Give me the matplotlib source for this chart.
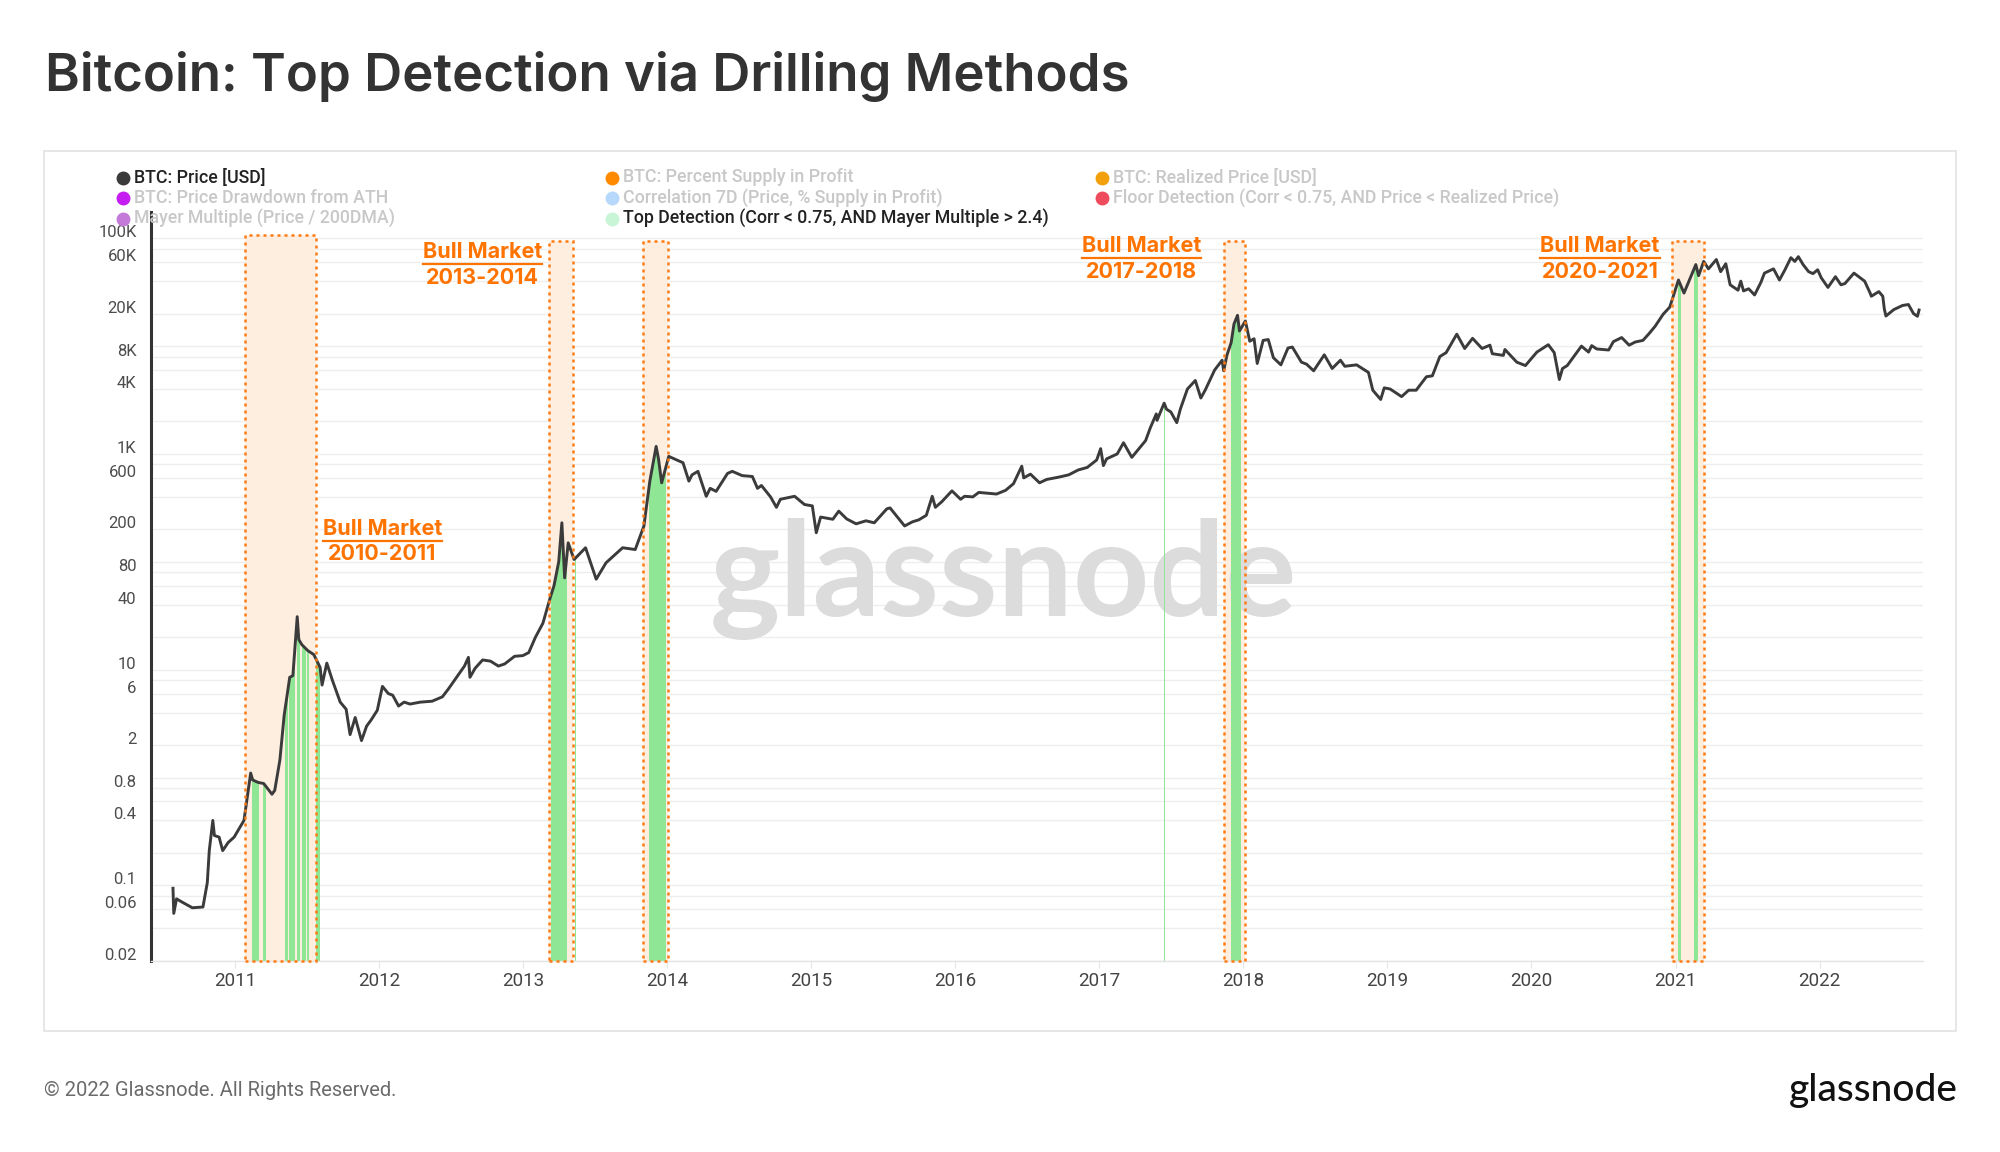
import pandas as pd
import matplotlib
matplotlib.use("Agg")
import matplotlib.pyplot as plt
import matplotlib.dates as mdates
from matplotlib.lines import Line2D
from matplotlib.patches import Rectangle
from matplotlib.ticker import FixedLocator, FixedFormatter, NullFormatter
from matplotlib.transforms import ScaledTranslation

plt.rcParams['font.family'] = ['Roboto', 'DejaVu Sans']

# BTC price (date, USD), one list per year
y2010 = [("2010-07-28", 0.094), ("2010-07-30", 0.055), ("2010-08-06", 0.075), ("2010-08-20", 0.070),
         ("2010-09-15", 0.062), ("2010-10-12", 0.063), ("2010-10-23", 0.106), ("2010-10-28", 0.21),
         ("2010-11-06", 0.40), ("2010-11-10", 0.29), ("2010-11-22", 0.28), ("2010-12-01", 0.21),
         ("2010-12-15", 0.25), ("2010-12-30", 0.28)]
y2011 = [("2011-01-24", 0.40), ("2011-02-10", 1.10), ("2011-02-15", 0.95), ("2011-03-01", 0.90),
         ("2011-03-15", 0.88), ("2011-04-05", 0.70), ("2011-04-12", 0.76), ("2011-04-25", 1.45),
         ("2011-05-06", 3.8), ("2011-05-20", 8.5), ("2011-05-28", 8.8), ("2011-06-08", 31.0),
         ("2011-06-12", 19.0), ("2011-06-20", 17.0), ("2011-07-05", 15.0), ("2011-07-20", 13.8),
         ("2011-08-05", 10.5), ("2011-08-10", 7.2), ("2011-08-22", 11.5), ("2011-09-05", 8.0),
         ("2011-09-25", 5.0), ("2011-10-10", 4.3), ("2011-10-20", 2.5), ("2011-11-02", 3.6),
         ("2011-11-18", 2.2), ("2011-12-01", 3.0), ("2011-12-12", 3.4), ("2011-12-28", 4.2)]
y2012 = [("2012-01-10", 7.0), ("2012-01-25", 6.0), ("2012-02-05", 5.8), ("2012-02-20", 4.6),
         ("2012-03-05", 5.0), ("2012-03-20", 4.8), ("2012-04-15", 5.0), ("2012-05-15", 5.1),
         ("2012-06-10", 5.6), ("2012-06-25", 6.6), ("2012-07-15", 8.4), ("2012-08-05", 10.8),
         ("2012-08-15", 13.0), ("2012-08-19", 8.5), ("2012-09-01", 10.3), ("2012-09-20", 12.3),
         ("2012-10-10", 12.0), ("2012-10-30", 10.8), ("2012-11-15", 11.3), ("2012-12-10", 13.3),
         ("2012-12-31", 13.5)]
y2013 = [("2013-01-15", 14.4), ("2013-02-01", 20), ("2013-02-20", 27), ("2013-03-10", 46),
         ("2013-03-20", 60), ("2013-04-01", 100), ("2013-04-09", 230), ("2013-04-16", 71),
         ("2013-04-25", 150), ("2013-05-10", 105), ("2013-06-08", 135), ("2013-07-05", 69),
         ("2013-07-30", 98), ("2013-08-20", 115), ("2013-09-10", 135), ("2013-10-12", 130),
         ("2013-11-03", 215), ("2013-11-18", 560), ("2013-12-04", 1175), ("2013-12-10", 900),
         ("2013-12-18", 540)]
y2014 = [("2014-01-05", 950), ("2014-01-25", 880), ("2014-02-10", 830), ("2014-02-25", 560),
         ("2014-03-05", 640), ("2014-03-20", 690), ("2014-04-10", 405), ("2014-04-20", 480),
         ("2014-05-05", 450), ("2014-06-03", 660), ("2014-06-15", 690), ("2014-07-10", 630),
         ("2014-08-05", 618), ("2014-08-18", 480), ("2014-08-28", 510), ("2014-09-20", 400),
         ("2014-10-05", 320), ("2014-10-15", 380), ("2014-11-20", 405), ("2014-12-15", 340)]
y2015 = [("2015-01-04", 330), ("2015-01-14", 186), ("2015-01-25", 260), ("2015-02-25", 248),
         ("2015-03-12", 295), ("2015-04-01", 250), ("2015-04-25", 225), ("2015-05-20", 240),
         ("2015-06-10", 230), ("2015-07-12", 310), ("2015-07-20", 316), ("2015-08-26", 215),
         ("2015-09-15", 235), ("2015-10-01", 245), ("2015-10-20", 270), ("2015-11-04", 405),
         ("2015-11-12", 320), ("2015-11-28", 360), ("2015-12-24", 455)]
y2016 = [("2016-01-15", 380), ("2016-01-25", 405), ("2016-02-15", 400), ("2016-03-01", 440),
         ("2016-04-15", 425), ("2016-05-08", 460), ("2016-05-28", 530), ("2016-06-18", 770),
         ("2016-06-23", 600), ("2016-07-10", 650), ("2016-08-02", 540), ("2016-08-20", 580),
         ("2016-09-20", 610), ("2016-10-15", 640), ("2016-11-08", 710), ("2016-12-01", 750),
         ("2016-12-25", 880)]
y2017 = [("2017-01-04", 1120), ("2017-01-11", 780), ("2017-01-19", 900), ("2017-02-15", 1000),
         ("2017-03-03", 1270), ("2017-03-24", 930), ("2017-04-28", 1330), ("2017-05-10", 1750),
         ("2017-05-25", 2350), ("2017-05-27", 2050), ("2017-06-14", 2960), ("2017-06-20", 2600),
         ("2017-07-01", 2450), ("2017-07-16", 1950), ("2017-07-25", 2600), ("2017-08-12", 4000),
         ("2017-09-01", 4800), ("2017-09-15", 3300), ("2017-09-26", 3900), ("2017-10-20", 6000),
         ("2017-11-08", 7400), ("2017-11-12", 5900), ("2017-11-20", 8200), ("2017-12-01", 10800),
         ("2017-12-08", 16000), ("2017-12-17", 19300), ("2017-12-22", 13800)]
y2018 = [("2018-01-06", 17100), ("2018-01-17", 11100), ("2018-01-28", 11700), ("2018-02-05", 6900),
         ("2018-02-20", 11300), ("2018-03-05", 11500), ("2018-03-18", 7800), ("2018-04-06", 6700),
         ("2018-04-24", 9600), ("2018-05-05", 9800), ("2018-05-28", 7100), ("2018-06-10", 6800),
         ("2018-06-28", 5900), ("2018-07-25", 8300), ("2018-08-14", 6200), ("2018-09-04", 7400),
         ("2018-09-15", 6500), ("2018-10-15", 6700), ("2018-11-14", 5700), ("2018-11-25", 3900),
         ("2018-12-15", 3200), ("2018-12-24", 4100)]
y2019 = [("2019-01-08", 4000), ("2019-02-06", 3400), ("2019-02-24", 3900), ("2019-03-15", 3900),
         ("2019-04-10", 5200), ("2019-04-25", 5300), ("2019-05-14", 8000), ("2019-05-30", 8700),
         ("2019-06-26", 12900), ("2019-07-16", 9500), ("2019-08-05", 11800), ("2019-08-29", 9500),
         ("2019-09-18", 10200), ("2019-09-24", 8500), ("2019-10-22", 8200), ("2019-10-26", 9300),
         ("2019-11-25", 7100), ("2019-12-17", 6600)]
y2020 = [("2020-01-15", 8800), ("2020-02-13", 10300), ("2020-02-28", 8700), ("2020-03-12", 4900),
         ("2020-03-20", 6200), ("2020-04-01", 6600), ("2020-05-07", 10000), ("2020-05-25", 8800),
         ("2020-06-02", 10100), ("2020-06-15", 9400), ("2020-07-15", 9200), ("2020-07-27", 11000),
         ("2020-08-17", 12000), ("2020-09-05", 10200), ("2020-09-20", 10900), ("2020-10-10", 11300),
         ("2020-10-25", 13000), ("2020-11-10", 15300), ("2020-11-30", 19700), ("2020-12-17", 23000)]
y2021 = [("2021-01-08", 41000), ("2021-01-22", 31000), ("2021-02-21", 57000), ("2021-02-28", 45000),
         ("2021-03-13", 61000), ("2021-03-25", 52000), ("2021-04-14", 63500), ("2021-04-25", 49000),
         ("2021-05-08", 58000), ("2021-05-19", 37000), ("2021-06-08", 33000), ("2021-06-15", 40000),
         ("2021-06-22", 32500), ("2021-07-05", 34000), ("2021-07-20", 29800), ("2021-08-05", 39000),
         ("2021-08-14", 47500), ("2021-09-06", 52000), ("2021-09-21", 41000), ("2021-10-05", 51000),
         ("2021-10-20", 66000), ("2021-10-30", 61000), ("2021-11-08", 67500), ("2021-11-20", 57000),
         ("2021-12-04", 49000), ("2021-12-15", 47000), ("2021-12-27", 51000)]
y2022 = [("2022-01-05", 43000), ("2022-01-22", 35000), ("2022-02-10", 44000), ("2022-02-24", 37000),
         ("2022-03-06", 38000), ("2022-03-29", 47500), ("2022-04-25", 40000), ("2022-05-09", 31000),
         ("2022-05-12", 29000), ("2022-05-31", 32000), ("2022-06-10", 29000), ("2022-06-14", 22000),
         ("2022-06-18", 19000), ("2022-07-08", 21800), ("2022-07-30", 23800), ("2022-08-14", 24300),
         ("2022-08-27", 20000), ("2022-09-06", 18900), ("2022-09-10", 21600)]

# days flagged by "Top Detection"
top_detection = [
    ("2011-02-14", "2011-03-03"), ("2011-03-13", "2011-03-22"), ("2011-05-07", "2011-05-15"),
    ("2011-05-18", "2011-06-03"), ("2011-06-08", "2011-06-16"), ("2011-06-21", "2011-07-01"),
    ("2011-07-02", "2011-07-09"), ("2011-07-26", "2011-08-05"),
    ("2013-03-13", "2013-04-23"), ("2013-05-12", "2013-05-14"),
    ("2013-11-16", "2013-12-28"),
    ("2017-06-14", "2017-06-15"),
    ("2017-12-01", "2017-12-25"),
    ("2021-01-06", "2021-01-14"), ("2021-02-17", "2021-02-26"),
]

bull_markets = [
    ("2011-01-27", "2011-07-26"),
    ("2013-03-07", "2013-05-06"),
    ("2013-11-01", "2014-01-03"),
    ("2017-11-13", "2018-01-05"),
    ("2020-12-22", "2021-03-14"),
]
bull_labels = ["2010-2011", "2013-2014", "2017-2018", "2020-2021"]

y_grid = [m * 10.0 ** e for e in range(-2, 6) for m in (1, 2, 4, 6, 8)]
y_ticks = [0.02, 0.06, 0.1, 0.4, 0.8, 2, 6, 10, 40, 80, 200, 600, 1000, 4000, 8000, 20000, 60000, 100000]
y_tick_labels = ["0.02", "0.06", "0.1", "0.4", "0.8", "2", "6", "10", "40", "80", "200", "600",
                 "1K", "4K", "8K", "20K", "60K", "100K"]

legend_names = [
    ["BTC: Price [USD]", "BTC: Price Drawdown from ATH", "Mayer Multiple (Price / 200DMA)"],
    ["BTC: Percent Supply in Profit", "Correlation 7D (Price, % Supply in Profit)",
     "Top Detection (Corr < 0.75, AND Mayer Multiple > 2.4)"],
    ["BTC: Realized Price [USD]", "Floor Detection (Corr < 0.75, AND Price < Realized Price)"],
]
legend_colors = [
    ["#3a3a3a", "#c51cf2", "#c47ad8"],
    ["#ff8a00", "#b6d9fb", "#c8f5d6"],
    ["#f2a10c", "#ee4b5c"],
]
legend_active = [
    [True, False, False],
    [False, False, True],
    [False, False],
]


W, H = 2000, 1152


def fx(px):
    return px / W


def fy(py):
    return 1 - py / H


history = sorted(y2010 + y2011 + y2012 + y2013 + y2014 + y2015 + y2016 + y2017
                 + y2018 + y2019 + y2020 + y2021 + y2022)
dates = mdates.date2num(pd.to_datetime([d for d, _ in history]))
price_usd = [p for _, p in history]

fig = plt.figure(figsize=(20, 11.52), dpi=100)
fig.patch.set_facecolor("white")

# chart panel frame
fig.add_artist(Rectangle((fx(43.5), fy(1030.5)), fx(1956.5) - fx(43.5), (1030.5 - 150.5) / H,
                         transform=fig.transFigure, facecolor="none", edgecolor="#e2e2e2", lw=1.2))

fig.text(fx(45), fy(76.5), "Bitcoin: Top Detection via Drilling Methods", fontsize=38,
         color="#333333", va="center", ha="left", family=["Inter", "DejaVu Sans"], fontweight="semibold")

# legend
col_x = [122.5, 612, 1102]
row_y = [177.5, 198, 218.5]
for c, names in enumerate(legend_names):
    for r, name in enumerate(names):
        fig.add_artist(Line2D([fx(col_x[c])], [fy(row_y[r])], marker="o", markersize=9,
                              color=legend_colors[c][r], transform=fig.transFigure))
        active = legend_active[c][r]
        fig.text(fx(col_x[c] + 11), fy(row_y[r]), name, fontsize=12.8, va="center", ha="left",
                 color="#222222" if active else "#c8c8c8", fontweight="medium")

ax = fig.add_axes([fx(150.5), fy(961), fx(1923) - fx(150.5), (961 - 211.5) / H])

ax.set_yscale("log")
ax.set_ylim(0.0199, 177000)
ax.set_xlim(mdates.date2num(pd.Timestamp("2010-06-01")), mdates.date2num(pd.Timestamp("2022-09-20")))

# bull market boxes
box_tops = [108000, 95000, 95000, 95000, 95000]
for (start, end), top in zip(bull_markets, box_tops):
    x0 = mdates.date2num(pd.Timestamp(start))
    x1 = mdates.date2num(pd.Timestamp(end))
    ax.add_patch(Rectangle((x0, 0.0199), x1 - x0, top - 0.0199, facecolor="#fdeee0",
                           edgecolor="none", zorder=1))
    ax.add_patch(Rectangle((x0, 0.0199), x1 - x0, top - 0.0199, facecolor="none",
                           edgecolor="#ff7a12", lw=1.8, linestyle=(0, (1.2, 1.6)), zorder=4,
                           clip_on=False))

# green top-detection bars, clipped to the area under the price line
under = ax.fill_between(dates, 1e-3, price_usd, facecolor="none", edgecolor="none")
for start, end in top_detection:
    span = ax.axvspan(mdates.date2num(pd.Timestamp(start)), mdates.date2num(pd.Timestamp(end)),
                      color="#8fe695", lw=0, zorder=2)
    span.set_clip_path(under.get_paths()[0], under.get_transform())

ax.plot(dates, price_usd, color="#3b3b3b", lw=2.1, zorder=3, solid_joinstyle="round")

# watermark
ax.text(0.481, 0.51, "glassnode", transform=ax.transAxes, fontsize=96, color="#dcdcdc",
        ha="center", va="center", family=["Lato", "DejaVu Sans"], fontweight="bold", zorder=1.5)

# axes styling
ax.yaxis.set_major_locator(FixedLocator(y_ticks))
ax.yaxis.set_major_formatter(FixedFormatter(y_tick_labels))
ax.yaxis.set_minor_locator(FixedLocator(y_grid))
ax.yaxis.set_minor_formatter(NullFormatter())
ax.grid(True, axis="y", which="both", color="#eeeeee", lw=1)
ax.set_axisbelow(True)
ax.tick_params(axis="y", which="both", length=0, pad=10, labelsize=12, labelcolor="#4d4d4d")
ax.xaxis.set_major_locator(mdates.YearLocator())
ax.xaxis.set_major_formatter(mdates.DateFormatter("%Y"))
ax.tick_params(axis="x", length=5, color="#e6e6e6", pad=3, labelsize=13.5, labelcolor="#444444")
for side in ("top", "right"):
    ax.spines[side].set_visible(False)
ax.spines["left"].set_color("#333333")
ax.spines["left"].set_linewidth(2.2)
ax.spines["bottom"].set_color("#e4e4e4")
ax.spines["bottom"].set_linewidth(1)
for lbl in ax.get_yticklabels():
    lbl.set_transform(lbl.get_transform() + ScaledTranslation(0, 0.07, fig.dpi_scale_trans))

# bull market annotations
label_x = ["2012-01-10", "2012-09-20", "2017-04-18", "2020-06-23"]
label_y = [(202, 117), (74000, 43000), (85000, 49000), (85000, 49000)]
titles = []
for lx, (y1, y2), years in zip(label_x, label_y, bull_labels):
    xd = mdates.date2num(pd.Timestamp(lx))
    t = ax.text(xd, y1, "Bull Market", fontsize=15.5, fontweight="bold", color="#ff7300",
                ha="center", va="center", zorder=6, family=["Inter", "DejaVu Sans"])
    ax.text(xd, y2, years, fontsize=15.5, fontweight="bold", color="#ff7300",
            ha="center", va="center", zorder=6, family=["Inter", "DejaVu Sans"])
    titles.append(t)

fig.text(fx(44), fy(1090.5), "\u00a9 2022 Glassnode. All Rights Reserved.", fontsize=14.5,
         color="#6a6a6a", va="center", ha="left")
fig.text(fx(1958), fy(1090.5), "glassnode", fontsize=28, color="#111111", va="center", ha="right",
         family=["Lato", "DejaVu Sans"], fontweight="medium")

# underline under "Bull Market"
fig.canvas.draw()
renderer = fig.canvas.get_renderer()
for t in titles:
    bb = t.get_window_extent(renderer)
    fig.add_artist(Line2D([bb.x0 / W, bb.x1 / W], [(bb.y0 - 2) / H, (bb.y0 - 2) / H],
                          color="#ff7300", lw=1.6, transform=fig.transFigure))

fig.savefig("out.png", dpi=100)
